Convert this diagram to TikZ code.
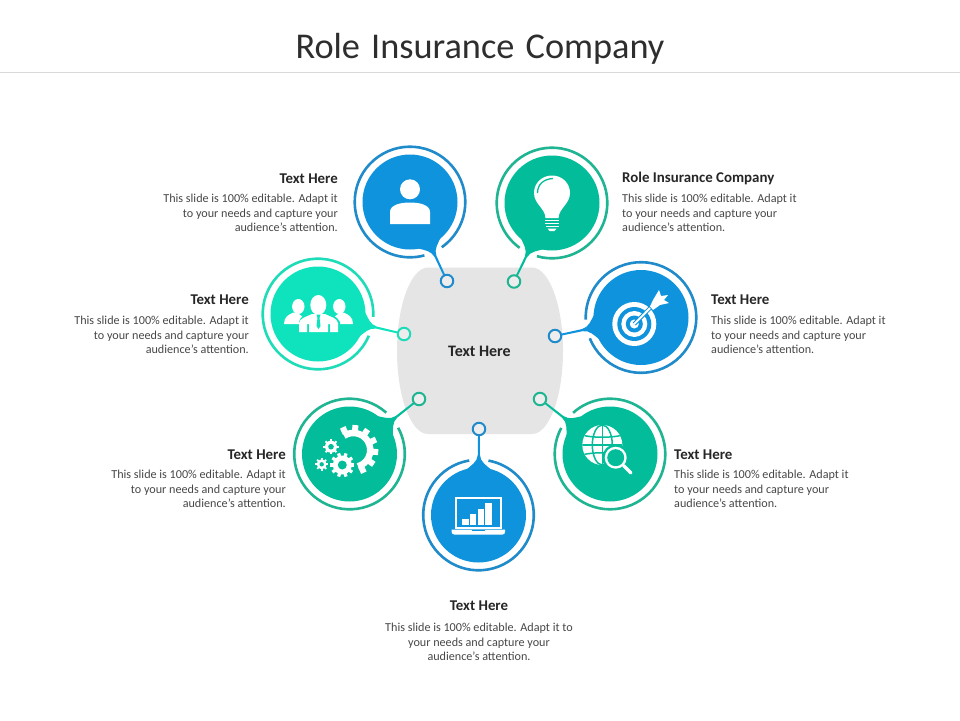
\documentclass[tikz,border=0pt]{standalone}
\usepackage{fontspec}
\setmainfont{Carlito}
\usetikzlibrary{calc}
\definecolor{bluefill}{HTML}{0F93DC}
\definecolor{bluering}{HTML}{1F8BCB}
\definecolor{greenfill}{HTML}{03BD9A}
\definecolor{greenring}{HTML}{20B592}
\definecolor{aquafill}{HTML}{0FE3BE}
\definecolor{aquaring}{HTML}{1FDCB8}
\tikzset{
  x=1pt,y=1pt,
  hd/.style={font=\fontsize{14.9}{17}\selectfont\bfseries,text=black!85,inner sep=0pt},
  bd/.style={font=\fontsize{12.15}{14.5}\selectfont,text=black!72,inner sep=0pt},
  disc/.style={circle,minimum size=95pt,inner sep=0pt,fill=#1},
  pinnode/.style={circle,minimum size=12.5pt,inner sep=0pt,fill=black!7,draw=#1,line width=2pt},
}
\newcommand{\bubble}[7]{%
  \node[disc=#6] (#1) at (#2,-#3) {};
  \coordinate (#1-c) at (#2,-#3);
  \coordinate (#1-n) at (#4,-#5);
  \fill[#6] let \p1=(#1-c),\p2=(#1-n),\n1={atan2(\y2-\y1,\x2-\x1)} in
    ($(#1-c)+(\n1+17:46.5)$)
    .. controls ($(#1-c)+(\n1+9:50)$) and ($(#1-c)+(\n1:53)+(\n1+90:1.4)$) .. ($(#1-c)+(\n1:60)+(\n1+90:1.1)$)
    -- ($(#1-n)+(\n1+90:0.9)$)
    -- ($(#1-n)+(\n1-90:0.9)$)
    -- ($(#1-c)+(\n1:60)+(\n1-90:1.1)$)
    .. controls ($(#1-c)+(\n1:53)+(\n1-90:1.4)$) and ($(#1-c)+(\n1-9:50)$) .. ($(#1-c)+(\n1-17:46.5)$) -- cycle;
  \draw[#7,line width=2.6pt] let \p1=(#1-c),\p2=(#1-n),\n1={atan2(\y2-\y1,\x2-\x1)} in
    ($(#1-c)+(\n1+10:55.3)$) arc[start angle=\n1+10,delta angle=340,radius=55.3];
  \node[pinnode=#7] (#1-p) at (#4,-#5) {};
}
\newcommand{\gearicon}[6]{% x y body hole teeth bg
  \foreach \a in {0,#5,...,359}{
    \fill[white,shift={(#1,-#2)},rotate=\a] (#3-1,-#3*0.17) rectangle (#3*1.28,#3*0.17);
  }
  \fill[white] (#1,-#2) circle[radius=#3];
  \fill[#6] (#1,-#2) circle[radius=#4];
}
\begin{document}
\begin{tikzpicture}
\useasboundingbox (0,0) rectangle (960,-720);
\fill[white] (0,0) rectangle (960,-720);
\node[font=\fontsize{36.3}{40}\selectfont,text=black!82,inner sep=0pt] (title) at (480,-48.5) {Role\hspace{3pt} Insurance\hspace{3pt} Company};
\draw[black!15,line width=0.8pt] (0,-72) -- (960,-72);

% centre
\node[inner sep=0pt] (hub) at (480,-351) {};
\fill[black!10] (428,-267.5) -- (532,-267.5)
  .. controls (549,-267.5) and (563,-305) .. (563,-351)
  .. controls (563,-397) and (549,-434) .. (532,-434)
  -- (428,-434)
  .. controls (411,-434) and (397,-397) .. (397,-351)
  .. controls (397,-305) and (411,-267.5) .. (428,-267.5) -- cycle;
\node[hd,font=\fontsize{16}{18}\selectfont\bfseries] (hubtext) at (479.5,-351.5) {Text Here};

% bubbles
\bubble{person}{410}{202}{447}{281}{bluefill}{bluering}
\bubble{bulb}{552}{203}{514}{281.5}{greenfill}{greenring}
\bubble{team}{318}{314}{404}{334}{aquafill}{aquaring}
\bubble{target}{641}{317.5}{555}{336}{bluefill}{bluering}
\bubble{gears}{349.5}{454}{419}{399}{greenfill}{greenring}
\bubble{globe}{610}{454}{540}{399}{greenfill}{greenring}
\bubble{laptop}{478.5}{515}{479}{429}{bluefill}{bluering}

% person icon
\fill[white] (410,-189.3) circle[radius=10];
\fill[white] (390,-224) -- (390,-212) .. controls (390,-205) and (400,-202.5) .. (410,-202.5)
  .. controls (420,-202.5) and (430,-205) .. (430,-212) -- (430,-224) -- cycle;

% bulb icon
\fill[white] (545.5,-218) .. controls (545,-208) and (534,-204) .. (534,-193)
  .. controls (534,-183) and (542,-175.5) .. (552,-175.5)
  .. controls (562,-175.5) and (570,-183) .. (570,-193)
  .. controls (570,-204) and (559,-208) .. (558.5,-218) -- cycle;
\draw[greenfill,line width=1.3pt] (537.5,-193) .. controls (537.5,-184) and (544,-179) .. (553,-178.5);
\fill[white] (545,-219.5) rectangle (559,-221.2);
\fill[white] (545,-222.5) rectangle (559,-224.2);
\fill[white] (545.5,-225.5) rectangle (558.5,-227.2);
\fill[white] (547.5,-228.5) -- (556.5,-228.5) -- (554.5,-231) -- (549.5,-231) -- cycle;

% team icon
\foreach \hx/\bx in {298.3/294.5,339.3/342.5}{
  \fill[white] (\hx,-306.5) ellipse[x radius=6.2,y radius=7.5];
  \fill[white] (\bx-10.5,-324) .. controls (\bx-10.5,-317) and (\bx-6,-314.5) .. (\bx-1,-312.5)
     -- (\bx+1,-312.5) .. controls (\bx+6,-314.5) and (\bx+10.5,-317) .. (\bx+10.5,-324) -- cycle;
}
\fill[aquafill] (299,-332.5) -- (299,-322) .. controls (300,-316) and (306,-315) .. (311,-311) -- (326,-311)
  .. controls (331,-315) and (337,-316) .. (340,-322) -- (340,-332.5) -- cycle;
\fill[white] (318.3,-305) ellipse[x radius=8,y radius=10];
\fill[white] (299,-332) -- (299,-323) .. controls (300,-318) and (306,-317) .. (312,-314) -- (325,-314)
  .. controls (331,-317) and (337,-318) .. (338,-323) -- (338,-332) -- (330,-332) -- (330,-324) -- (328,-324) -- (328,-332) -- (309,-332) -- (309,-324) -- (307,-324) -- (307,-332) -- cycle;
\fill[aquafill] (316.5,-314.5) -- (320.5,-314.5) -- (319.5,-318) -- (320.5,-326) -- (318.5,-329) -- (316.5,-326) -- (317.5,-318) -- cycle;

% target icon
\fill[white] (634.3,-324) circle[radius=22];
\fill[bluefill] (634.3,-324) circle[radius=17];
\fill[white] (634.3,-324) circle[radius=13];
\fill[bluefill] (634.3,-324) circle[radius=8.5];
\fill[white] (634.3,-324) circle[radius=4.5];
\draw[bluefill,line width=4pt] (634.3,-324) -- (654,-304);
\draw[white,line width=2pt] (634.3,-324) -- (656,-302);
\fill[bluefill] (648,-306) -- (656,-291) -- (670,-304) -- (655,-313) -- cycle;
\fill[white] (650,-306.5) -- (653,-300) -- (659,-290) -- (661,-296) -- (668,-295) -- (664,-300) -- (669,-303) -- (660,-305) -- (653,-310) -- cycle;

% gears icon
\draw[white,line width=6.5pt] (353.3,-450)++(123:17) arc[start angle=123,end angle=-74,radius=17];
\foreach \a in {115,85,55,25,-5,-35,-65}{
  \fill[white,shift={(353.3,-450)},rotate=\a] (18,-3) rectangle (25,3);
}
\gearicon{331}{446.7}{6}{2.8}{45}{greenfill}
\gearicon{342.3}{465}{9.5}{4.5}{36}{greenfill}
\gearicon{321.7}{464.3}{5}{2.2}{45}{greenfill}

% globe icon
\fill[white] (602.3,-445) circle[radius=20];
\begin{scope}
\clip (602.3,-445) circle[radius=20];
\draw[greenfill,line width=1.5pt] (602.3,-445) ellipse[x radius=10,y radius=20];
\draw[greenfill,line width=1.5pt] (602.3,-425) -- (602.3,-465);
\draw[greenfill,line width=1.5pt] (582,-445) -- (623,-445);
\draw[greenfill,line width=1.5pt] (582,-435) .. controls (592,-438) and (612,-438) .. (623,-435);
\draw[greenfill,line width=1.5pt] (582,-455) .. controls (592,-452) and (612,-452) .. (623,-455);
\end{scope}
\fill[greenfill] (615.7,-457.7) circle[radius=13.5];
\fill[white] (615.7,-457.7) circle[radius=11];
\fill[greenfill] (615.7,-457.7) circle[radius=8.5];
\draw[white,line width=3.4pt,line cap=round] (623.5,-465.5) -- (631,-473);

% laptop icon
\draw[white,line width=2pt] (456,-497.7) rectangle (500.7,-528);
\fill[white] (461.5,-519) rectangle (468.5,-524.5);
\fill[white] (469.7,-514.3) rectangle (476.3,-524.5);
\fill[white] (477.7,-509) rectangle (484,-524.5);
\fill[white] (485.3,-503.3) rectangle (491.5,-524.5);
\fill[white] (451.7,-529.5) -- (505,-529.5) -- (505,-532) .. controls (505,-533.5) and (504,-534.5) .. (502.5,-534.5)
   -- (454.2,-534.5) .. controls (452.7,-534.5) and (451.7,-533.5) .. (451.7,-532) -- cycle;
\fill[bluefill] (472,-530.3) rectangle (485,-531.3);

% texts
\node[hd,anchor=east] (h1) at (338,-178.5) {Text Here};
\node[bd,anchor=north east,align=right] (b1) at (338,-194.3) {This slide is 100\% editable. Adapt it\\to your needs and capture your\\audience’s attention.};
\node[hd,anchor=west] (h2) at (622,-178.5) {Role Insurance Company};
\node[bd,anchor=north west,align=left] (b2) at (622,-194.3) {This slide is 100\% editable. Adapt it\\to your needs and capture your\\audience’s attention.};
\node[hd,anchor=east] (h3) at (249,-299.5) {Text Here};
\node[bd,anchor=north east,align=right] (b3) at (249,-316.3) {This slide is 100\% editable. Adapt it\\to your needs and capture your\\audience’s attention.};
\node[hd,anchor=west] (h4) at (711,-299.5) {Text Here};
\node[bd,anchor=north west,align=left] (b4) at (711,-316.3) {This slide is 100\% editable. Adapt it\\to your needs and capture your\\audience’s attention.};
\node[hd,anchor=east] (h5) at (286,-454.5) {Text Here};
\node[bd,anchor=north east,align=right] (b5) at (286,-470.3) {This slide is 100\% editable. Adapt it\\to your needs and capture your\\audience’s attention.};
\node[hd,anchor=west] (h6) at (674,-454.5) {Text Here};
\node[bd,anchor=north west,align=left] (b6) at (674,-470.3) {This slide is 100\% editable. Adapt it\\to your needs and capture your\\audience’s attention.};
\node[hd] (h7) at (479,-605.5) {Text Here};
\node[bd,anchor=north,align=center] (b7) at (479,-623.3) {This slide is 100\% editable. Adapt it to\\your needs and capture your\\audience’s attention.};
\end{tikzpicture}
\end{document}
